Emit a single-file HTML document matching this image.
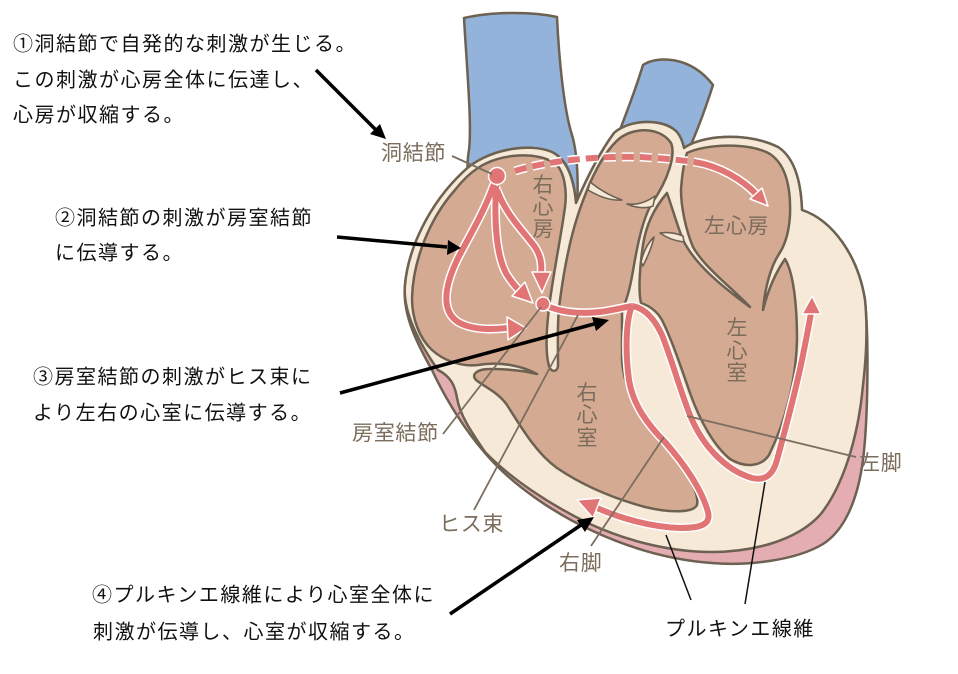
<!DOCTYPE html>
<html><head><meta charset="utf-8"><style>
html,body{margin:0;padding:0;background:#fff;}
svg{display:block;}
.t{font-family:"Liberation Sans","Noto Sans CJK JP",sans-serif;font-size:20px;fill:#111;letter-spacing:1.5px;}
.l{font-family:"Liberation Sans","Noto Sans CJK JP",sans-serif;font-size:21px;fill:#7b6c5c;letter-spacing:0.7px;}
.v{font-family:"Liberation Sans","Noto Sans CJK JP",sans-serif;font-size:21px;fill:#7b6c5c;text-anchor:middle;}
</style></head><body>
<svg width="958" height="674" viewBox="0 0 958 674" xmlns="http://www.w3.org/2000/svg">
<g stroke="#6d6152" stroke-width="2.5" stroke-linejoin="round">
<!-- blue vessels -->
<path d="M464,18 C490,12 530,11 557,17 C559,60 564,110 572,135 C578,155 579,190 576,215 L470,215 C468,190 466,165 469,150 C472,125 467,70 464,18 Z" fill="#94b3da"/>
<path d="M643,65 C656,56 690,55 713,85 C705,110 696,135 684,160 L640,165 L616,140 C627,112 636,88 643,65 Z" fill="#94b3da"/>
<!-- silhouette pink -->
<path d="M463,172 C485,150 528,142 552,152 C568,160 574,180 576,203 C586,180 600,152 614,133 C628,120 662,117 677,132 C681,137 683,143 684,148 C700,136 745,131 778,147 C795,158 801,182 802,210 C832,220 858,255 865,300 C869,340 868,420 863,460 C857,505 842,532 823,544 C795,561 745,566 712,563 C670,560 630,548 595,532 C555,514 512,485 485,453 C465,430 446,400 432,370 C418,345 402,315 405,285 C408,250 428,205 463,172 Z" fill="#e4adb2"/>
<!-- cream body -->
<path d="M463,172 C485,150 528,142 552,152 C568,160 574,180 576,203 C586,180 600,152 614,133 C628,120 662,117 677,132 C681,137 683,143 684,148 C700,136 745,131 778,147 C795,158 801,182 802,210 C832,220 858,255 865,300 C868,330 866,360 863,385 C858,440 842,488 820,515 C795,542 750,552 712,552 C668,552 625,540 590,524 C550,505 510,478 485,452 C470,430 460,415 457,398 C455,385 450,376 438,370 C424,350 402,315 405,285 C408,250 428,205 463,172 Z" fill="#f6e9d7"/>
<!-- right side brown -->
<path d="M478,168 C500,153 538,151 556,164 C565,173 567,192 565,207 C562,230 555,265 550,300 C546,330 545,352 549,366 C551,372 557,373 558,366 C558,345 557,320 560,300 C564,270 570,240 577,218 C581,205 585,195 590,183 C598,165 608,148 620,138 C635,127 660,127 671,143 C676,155 668,180 652,203 C642,220 637,248 634,265 C631,283 628,298 622,310 L622,360 C624,390 640,420 662,442 C680,462 700,490 697,505 C693,513 670,513 645,507 C612,498 582,485 557,468 C535,452 520,425 507,405 C498,392 483,386 476,380 C471,375 476,369 490,369 C508,369 525,371 537,374 C522,366 500,361 478,365 C460,367 443,360 432,350 C419,338 412,318 412,298 C413,260 430,218 455,190 C462,181 470,173 478,168 Z" fill="#d5aa92"/>
<!-- left side brown -->
<path d="M687,153 C705,144 750,142 770,154 C785,164 791,186 790,215 C789,232 785,245 779,254 C771,266 765,287 763,310 C768,290 776,272 785,259 C793,272 797,302 797,340 C796,380 786,420 769,455 C761,467 745,468 730,459 C714,446 700,421 690,393 C682,370 672,340 662,320 C657,311 650,306 641,303 C638,290 640,265 643,245 C646,225 655,207 667,193 C672,207 677,225 683,240 C695,264 720,285 750,307 C730,286 705,268 693,247 C685,228 681,205 681,190 C682,175 684,162 687,153 Z" fill="#d5aa92"/>
</g>
<!-- small cusps -->
<g fill="#f6e9d7" stroke="#6d6152" stroke-width="1.6" stroke-linejoin="round">
<path d="M590,182 C600,190 610,196 622,200 C610,201 598,196 588,190 Z"/>
<path d="M655,196 C645,203 637,205 627,204 C638,209 648,208 653,206 Z"/>
<path d="M683,236 C676,233 668,232 660,233 C667,238 675,241 684,242 Z"/>
<path d="M641,262 C644,250 648,243 654,237 C652,247 648,256 643,266 Z"/>
</g>
<!-- red conduction paths -->
<g fill="none" stroke-linecap="butt" stroke-linejoin="round">
<g stroke="#fff" stroke-width="9">
<path d="M515,171 C550,160 600,156 640,157 C660,158 680,160 695,162" stroke-dasharray="12 6"/>
<path d="M695,162 C720,166 743,180 757,195"/>
<path d="M494,184 C485,210 470,235 458,258 C445,285 440,310 458,322 C472,330 490,330 507,328"/>
<path d="M496,186 C494,225 497,258 507,275 C511,281 514,285 518,289"/>
<path d="M497,190 C506,215 524,232 535,247 C541,256 542,265 541,273"/>
<path d="M543,304 C560,313 580,314 600,312 C615,310 625,307 632,306"/>
<path d="M632,306 C626,320 625,350 629,380 C633,405 648,425 665,442 C685,465 702,490 708,512 C711,525 700,528 680,528 C650,527 620,518 597,508"/>
<path d="M632,306 C645,308 655,320 662,335 C672,360 680,390 690,415 C702,445 725,470 752,478 C765,481 773,475 777,460 C785,430 795,395 803,355 C806,340 809,325 811,313"/>
</g>
<g stroke="#e17475" stroke-width="6">
<path d="M515,171 C550,160 600,156 640,157 C660,158 680,160 695,162" stroke-dasharray="12 6"/>
<path d="M694,162 C720,166 743,180 757,195"/>
<path d="M494,184 C485,210 470,235 458,258 C445,285 440,310 458,322 C472,330 490,330 507,328"/>
<path d="M496,186 C494,225 497,258 507,275 C511,281 514,285 518,289"/>
<path d="M497,190 C506,215 524,232 535,247 C541,256 542,265 541,273"/>
<path d="M543,304 C560,313 580,314 600,312 C615,310 625,307 632,306"/>
<path d="M632,306 C626,320 625,350 629,380 C633,405 648,425 665,442 C685,465 702,490 708,512 C711,525 700,528 680,528 C650,527 620,518 597,508"/>
<path d="M632,306 C645,308 655,320 662,335 C672,360 680,390 690,415 C702,445 725,470 752,478 C765,481 773,475 777,460 C785,430 795,395 803,355 C806,340 809,325 811,313"/>
</g>
</g>
<g fill="#e17475" stroke="#fff" stroke-width="1.5" stroke-linejoin="round">
<polygon points="768,206 750,199 762,188"/>
<polygon points="526,328 507,317 508,340"/>
<polygon points="533,303 512,296 525,282"/>
<polygon points="542,293 532,272 551,272"/>
<polygon points="577,500 601,498 593,518"/>
<polygon points="812,296 802,314 821,314"/>
<circle cx="497" cy="176" r="8.5"/>
<circle cx="543" cy="304" r="7"/>
</g>
<!-- leader lines -->
<g stroke="#7a6e60" stroke-width="1.8" fill="none">
<line x1="452" y1="156" x2="492" y2="174"/>
<line x1="443" y1="434" x2="541" y2="307"/>
<line x1="474" y1="510" x2="578" y2="315"/>
<line x1="591" y1="546" x2="664" y2="437"/>
<line x1="687" y1="416" x2="856" y2="457"/>
</g>
<g stroke="#111" stroke-width="1.5">
<line x1="666" y1="535" x2="691" y2="600"/>
<line x1="765" y1="482" x2="745" y2="604"/>
</g>
<!-- black arrows -->
<g stroke="#000" stroke-width="3.5">
<line x1="316" y1="70" x2="377" y2="131"/>
<line x1="337" y1="237" x2="447" y2="247"/>
<line x1="340" y1="393" x2="594" y2="324"/>
<line x1="450" y1="614" x2="581" y2="525"/>
</g>
<g fill="#000">
<polygon points="386,139 370,134 380,124"/>
<polygon points="461,248 448,240 447,255"/>
<polygon points="609,320 596,331 592,317"/>
<polygon points="594,517 585,532 577,520"/>
</g>
<!-- black text -->
<text class="t" x="13" y="50.6">①洞結節で自発的な刺激が生じる。</text>
<text class="t" x="13" y="86.6">この刺激が心房全体に伝達し、</text>
<text class="t" x="13" y="121.6">心房が収縮する。</text>
<text class="t" x="55" y="224.6">②洞結節の刺激が房室結節</text>
<text class="t" x="55" y="259.6">に伝導する。</text>
<text class="t" x="33" y="383.6">③房室結節の刺激がヒス束に</text>
<text class="t" x="33" y="419.6">より左右の心室に伝導する。</text>
<text class="t" x="92" y="601.6">④プルキンエ線維により心室全体に</text>
<text class="t" x="93" y="638.6">刺激が伝導し、心室が収縮する。</text>
<text class="t" x="665" y="635.6">プルキンエ線維</text>
<!-- labels -->
<text class="l" x="381" y="160">洞結節</text>
<text class="l" x="704" y="233">左心房</text>
<text class="l" x="352" y="440">房室結節</text>
<text class="l" x="439" y="531">ヒス束</text>
<text class="l" x="559" y="570">右脚</text>
<text class="l" x="859" y="470">左脚</text>
<text class="v" x="543" y="192">右</text>
<text class="v" x="543" y="214">心</text>
<text class="v" x="543" y="236">房</text>
<text class="v" x="737" y="335">左</text>
<text class="v" x="737" y="358">心</text>
<text class="v" x="737" y="380">室</text>
<text class="v" x="587" y="400">右</text>
<text class="v" x="587" y="422">心</text>
<text class="v" x="587" y="445">室</text>
</svg>
</body></html>
